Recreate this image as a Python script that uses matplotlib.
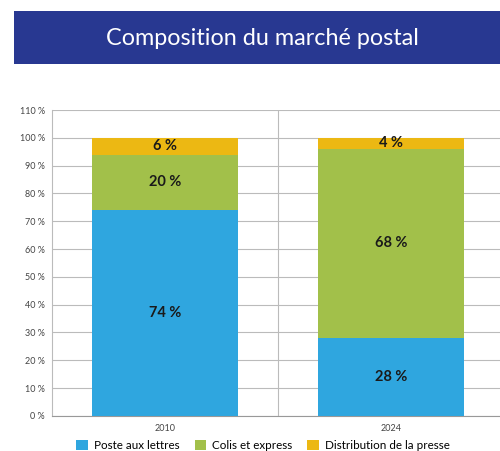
import matplotlib.pyplot as plt
from matplotlib.patches import Rectangle

years = ["2010", "2024"]
series = ["Poste aux lettres", "Colis et express", "Distribution de la presse"]
lettres = [74, 28]
colis = [20, 68]
presse = [6, 4]
colors = ["#2fa6df", "#a2c04a", "#ecb813"]

plt.rcParams["font.family"] = ["Lato", "DejaVu Sans"]

fig = plt.figure(figsize=(5, 4.51), dpi=100)

# title banner
fig.patches.append(Rectangle((0.028, 0.858), 1.0, 0.118, transform=fig.transFigure,
                             facecolor="#283891", edgecolor="none"))
fig.text(0.524, 0.914, "Composition du marché postal", color="white",
         fontsize=16.8, ha="center", va="center")

ax = fig.add_axes([0.104, 0.078, 0.904, 0.678])
x = range(len(years))
bottom = [0, 0]
for vals, name, c in zip([lettres, colis, presse], series, colors):
    ax.bar(x, vals, bottom=bottom, width=0.645, color=c, label=name, zorder=3)
    for i, v in enumerate(vals):
        ax.text(i, bottom[i] + v / 2, f"{v} %", ha="center", va="center",
                fontsize=10.5, fontweight="bold", color="#1a1a1a", zorder=4)
    bottom = [b + v for b, v in zip(bottom, vals)]

ax.set_xlim(-0.5, 1.5)
ax.set_ylim(0, 110)
ax.set_yticks(range(0, 111, 10))
ax.set_yticklabels([f"{t} %" for t in range(0, 111, 10)])
ax.set_xticks(list(x))
ax.set_xticklabels(years)
ax.tick_params(axis="both", length=0, labelsize=6.5, colors="#444444", pad=5)
ax.tick_params(axis="x", pad=6)
ax.grid(axis="y", color="#bbbbbb", linewidth=0.8, zorder=0)
ax.axvline(0.5, color="#bbbbbb", linewidth=0.8, zorder=0)
for s in ["top", "right"]:
    ax.spines[s].set_visible(False)
ax.spines["left"].set_color("#bbbbbb")
ax.spines["bottom"].set_color("#999999")

fig.legend(loc="center", bbox_to_anchor=(0.526, 0.013), ncol=3, frameon=False,
           fontsize=8.4, handlelength=1.0, handleheight=1.0, handletextpad=0.5,
           columnspacing=1.3)

fig.savefig("out.png", dpi=100)
